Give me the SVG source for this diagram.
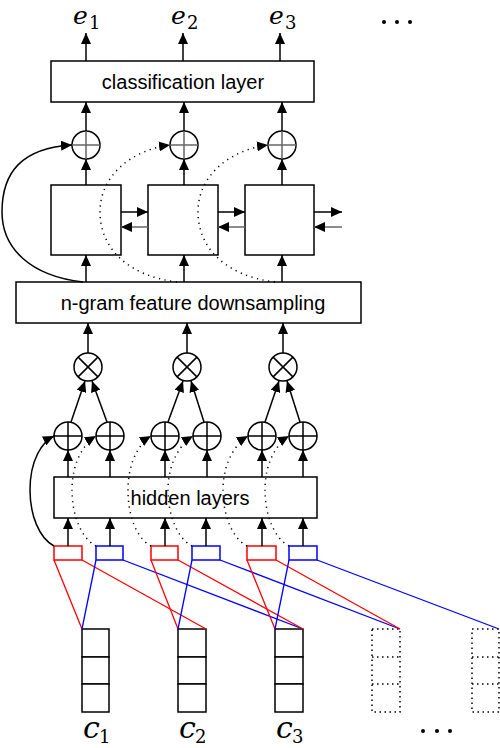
<svg xmlns="http://www.w3.org/2000/svg" width="500" height="748" viewBox="0 0 500 748">
<style>
.box{fill:#fff;stroke:#000;stroke-width:1.5}
.lbl{font-family:"Liberation Sans",Arial,sans-serif;font-size:20px;fill:#000;text-anchor:middle}
.math{font-family:"DejaVu Serif",serif;font-style:italic;font-size:30px;fill:#000}
.mtop{font-family:"DejaVu Serif",serif;font-style:italic;font-size:25px;fill:#000}
.sub{font-family:"DejaVu Serif",serif;font-style:normal;font-size:18px}
.subt{font-family:"DejaVu Serif",serif;font-style:normal;font-size:18px}
.ln{fill:none;stroke:#000;stroke-width:1.5}
.gl{fill:none;stroke:#666;stroke-width:1.5}
.dot{fill:none;stroke:#000;stroke-width:1.5;stroke-dasharray:1.2 4.5}
.circ{fill:#fff;stroke:#000;stroke-width:1.5}
.red{fill:#fff;stroke:#f00;stroke-width:1.5}
.blue{fill:#fff;stroke:#00f;stroke-width:1.5}
.rl{fill:none;stroke:#f00;stroke-width:1.3}
.bl{fill:none;stroke:#00f;stroke-width:1.3}
.cell{fill:#fff;stroke:#000;stroke-width:1.5}
.dcell{fill:none;stroke:#000;stroke-width:1.5;stroke-dasharray:1.5 3.5}
</style>
<defs>
<marker id="ah" markerUnits="userSpaceOnUse" markerWidth="11" markerHeight="10" refX="11" refY="5" orient="auto">
<path d="M0,0 L11,5 L0,10 z" fill="#000"/>
</marker>
</defs>

<!-- output labels -->
<g id="e1"><text class="mtop" x="73" y="24">e<tspan class="subt" x="89" y="29">1</tspan></text></g>
<g id="e2"><text class="mtop" x="171" y="24">e<tspan class="subt" x="187" y="29">2</tspan></text></g>
<g id="e3"><text class="mtop" x="269" y="24">e<tspan class="subt" x="285" y="29">3</tspan></text></g>
<g id="ellipsis-top"><circle cx="384" cy="22" r="2"/><circle cx="397" cy="22" r="2"/><circle cx="410" cy="22" r="2"/></g>

<g id="classification"><rect class="box" x="51" y="61" width="263" height="41"/><text class="lbl" x="183" y="89">classification layer</text></g>

<g id="oplus-top1"><circle class="circ" cx="86" cy="145" r="14"/><path class="gl" d="M72,145 H100 M86,131 V159"/></g>
<g id="oplus-top2"><circle class="circ" cx="184" cy="145" r="14"/><path class="gl" d="M170,145 H198 M184,131 V159"/></g>
<g id="oplus-top3"><circle class="circ" cx="282" cy="145" r="14"/><path class="gl" d="M268,145 H296 M282,131 V159"/></g>

<g id="rnn1"><rect class="box" x="51" y="185" width="70" height="70"/></g>
<g id="rnn2"><rect class="box" x="148" y="185" width="70" height="70"/></g>
<g id="rnn3"><rect class="box" x="245" y="185" width="69" height="70"/></g>

<g id="ngram"><rect class="box" x="16" y="282" width="345" height="41"/><text class="lbl" x="193" y="310">n-gram feature downsampling</text></g>

<g id="otimes1"><circle class="circ" cx="88" cy="367" r="14"/><path class="ln" d="M78.1,357.1 L97.9,376.9 M97.9,357.1 L78.1,376.9"/></g>
<g id="otimes2"><circle class="circ" cx="187" cy="367" r="14"/><path class="ln" d="M177.1,357.1 L196.9,376.9 M196.9,357.1 L177.1,376.9"/></g>
<g id="otimes3"><circle class="circ" cx="283" cy="367" r="14"/><path class="ln" d="M273.1,357.1 L292.9,376.9 M292.9,357.1 L273.1,376.9"/></g>

<g id="oplus-b1"><circle class="circ" cx="68" cy="436" r="14"/><path class="ln" d="M54,436 H82 M68,422 V450"/></g>
<g id="oplus-b2"><circle class="circ" cx="110" cy="436" r="14"/><path class="ln" d="M96,436 H124 M110,422 V450"/></g>
<g id="oplus-b3"><circle class="circ" cx="165" cy="436" r="14"/><path class="ln" d="M151,436 H179 M165,422 V450"/></g>
<g id="oplus-b4"><circle class="circ" cx="207" cy="436" r="14"/><path class="ln" d="M193,436 H221 M207,422 V450"/></g>
<g id="oplus-b5"><circle class="circ" cx="262" cy="436" r="14"/><path class="ln" d="M248,436 H276 M262,422 V450"/></g>
<g id="oplus-b6"><circle class="circ" cx="303" cy="436" r="14"/><path class="ln" d="M289,436 H317 M303,422 V450"/></g>

<g id="hidden"><rect class="box" x="54" y="477" width="263" height="41"/><text class="lbl" x="190" y="505">hidden layers</text></g>

<g id="ngram-boxes">
<rect class="red" x="54" y="546" width="28" height="14"/>
<rect class="blue" x="96" y="546" width="27" height="14"/>
<rect class="red" x="151" y="546" width="27" height="14"/>
<rect class="blue" x="192" y="546" width="28" height="14"/>
<rect class="red" x="247" y="546" width="29" height="14"/>
<rect class="blue" x="289" y="546" width="28" height="14"/>
</g>

<g id="c1"><rect class="cell" x="82" y="629" width="27" height="28"/><rect class="cell" x="82" y="657" width="27" height="27"/><rect class="cell" x="82" y="684" width="27" height="28"/>
<text class="math" x="83" y="738">c<tspan class="sub" x="99" y="743">1</tspan></text></g>
<g id="c2"><rect class="cell" x="178" y="629" width="28" height="28"/><rect class="cell" x="178" y="657" width="28" height="27"/><rect class="cell" x="178" y="684" width="28" height="28"/>
<text class="math" x="179" y="738">c<tspan class="sub" x="195" y="743">2</tspan></text></g>
<g id="c3"><rect class="cell" x="275" y="629" width="28" height="28"/><rect class="cell" x="275" y="657" width="28" height="27"/><rect class="cell" x="275" y="684" width="28" height="28"/>
<text class="math" x="276" y="738">c<tspan class="sub" x="292" y="743">3</tspan></text></g>
<g id="c4"><rect class="dcell" x="372" y="629" width="28" height="83"/><path class="dcell" d="M372,657 H400 M372,684 H400"/></g>
<g id="c5"><rect class="dcell" x="472" y="629" width="27" height="83"/><path class="dcell" d="M472,657 H499 M472,684 H499"/></g>
<g id="ellipsis-bottom"><circle cx="423" cy="731" r="2"/><circle cx="437" cy="731" r="2"/><circle cx="450" cy="731" r="2"/></g>

<g id="connectors">
<!-- top outputs -->
<path class="ln" d="M86,61 V33" marker-end="url(#ah)"/>
<path class="ln" d="M183,61 V33" marker-end="url(#ah)"/>
<path class="ln" d="M280,61 V33" marker-end="url(#ah)"/>
<!-- oplus to classification -->
<path class="ln" d="M86,131 V102" marker-end="url(#ah)"/>
<path class="ln" d="M184,131 V102" marker-end="url(#ah)"/>
<path class="ln" d="M282,131 V102" marker-end="url(#ah)"/>
<!-- rnn to oplus -->
<path class="ln" d="M86,185 V159" marker-end="url(#ah)"/>
<path class="ln" d="M184,185 V159" marker-end="url(#ah)"/>
<path class="ln" d="M282,185 V159" marker-end="url(#ah)"/>
<!-- horizontal rnn -->
<path class="ln" d="M121,212 H148" marker-end="url(#ah)"/>
<path class="gl" d="M148,227 H121" marker-end="url(#ah)"/>
<path class="ln" d="M218,212 H245" marker-end="url(#ah)"/>
<path class="gl" d="M245,227 H218" marker-end="url(#ah)"/>
<path class="ln" d="M314,212 H342" marker-end="url(#ah)"/>
<path class="gl" d="M342,227 H314" marker-end="url(#ah)"/>
<!-- ngram to rnn -->
<path class="ln" d="M86,282 V255" marker-end="url(#ah)"/>
<path class="ln" d="M184,282 V255" marker-end="url(#ah)"/>
<path class="ln" d="M282,282 V255" marker-end="url(#ah)"/>
<!-- skip curves upper -->
<path class="ln" d="M83,282 C30,276 2,248 2,212 C2,172 22,148 72,145" marker-end="url(#ah)"/>
<path class="dot" d="M177,282 C128,276 100,248 100,212 C100,175 132,150 170,145" marker-end="url(#ah)"/>
<path class="dot" d="M275,282 C226,276 198,248 198,212 C198,175 230,150 268,145" marker-end="url(#ah)"/>
<!-- otimes to ngram -->
<path class="ln" d="M88,353 V323" marker-end="url(#ah)"/>
<path class="ln" d="M187,353 V323" marker-end="url(#ah)"/>
<path class="ln" d="M283,353 V323" marker-end="url(#ah)"/>
<!-- oplus to otimes -->
<path class="ln" d="M71,422 L85,381" marker-end="url(#ah)"/>
<path class="ln" d="M107,422 L92,381" marker-end="url(#ah)"/>
<path class="ln" d="M168,422 L183,381" marker-end="url(#ah)"/>
<path class="ln" d="M204,422 L191,381" marker-end="url(#ah)"/>
<path class="ln" d="M265,422 L279,381" marker-end="url(#ah)"/>
<path class="ln" d="M300,422 L287,381" marker-end="url(#ah)"/>
<!-- hidden to oplus -->
<path class="ln" d="M68,477 V450" marker-end="url(#ah)"/>
<path class="ln" d="M110,477 V450" marker-end="url(#ah)"/>
<path class="ln" d="M165,477 V450" marker-end="url(#ah)"/>
<path class="ln" d="M207,477 V450" marker-end="url(#ah)"/>
<path class="ln" d="M262,477 V450" marker-end="url(#ah)"/>
<path class="ln" d="M303,477 V450" marker-end="url(#ah)"/>
<!-- boxes to hidden -->
<path class="ln" d="M68,546 V518" marker-end="url(#ah)"/>
<path class="ln" d="M110,546 V518" marker-end="url(#ah)"/>
<path class="ln" d="M165,546 V518" marker-end="url(#ah)"/>
<path class="ln" d="M206,546 V518" marker-end="url(#ah)"/>
<path class="ln" d="M262,546 V518" marker-end="url(#ah)"/>
<path class="ln" d="M303,546 V518" marker-end="url(#ah)"/>
<!-- skip curves lower -->
<path class="ln" d="M54,546 C39,538 30,515 30,490 C30,460 42,442 54,436" marker-end="url(#ah)"/>
<path class="dot" d="M96,546 C81,538 72,515 72,490 C72,460 86,442 96,436" marker-end="url(#ah)"/>
<path class="dot" d="M151,546 C136,538 128,515 128,490 C128,460 141,442 151,436" marker-end="url(#ah)"/>
<path class="dot" d="M192,546 C177,538 168,515 168,490 C168,460 183,442 193,436" marker-end="url(#ah)"/>
<path class="dot" d="M247,546 C232,538 223,515 223,490 C223,460 238,442 248,436" marker-end="url(#ah)"/>
<path class="dot" d="M289,546 C274,538 265,515 265,490 C265,460 279,442 289,436" marker-end="url(#ah)"/>
<!-- receptive field lines -->
<path class="rl" d="M54,560 L82,629 M82,560 L206,629"/>
<path class="bl" d="M96,560 L82,629 M123,560 L303,629"/>
<path class="rl" d="M151,560 L178,629 M178,560 L303,629"/>
<path class="bl" d="M192,560 L178,629 M220,560 L400,629"/>
<path class="rl" d="M247,560 L275,629 M276,560 L400,629"/>
<path class="bl" d="M289,560 L275,629 M317,560 L499,629"/>
</g>
</svg>
